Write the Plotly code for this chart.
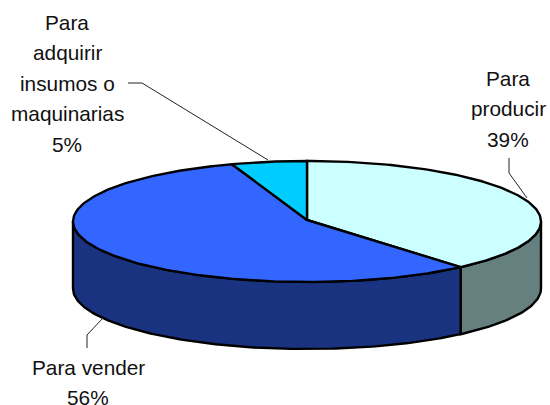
import numpy as np
import plotly.graph_objects as go

categories = ["Para producir", "Para vender", "Para adquirir insumos o maquinarias"]
values = [38.6, 56.2, 5.2]
top_colors = ["#CCFFFF", "#3366FF", "#00CCFF"]
wall_colors = ["#668080", "#1A3380", "#006680"]
label_lines = [["Para", "producir", "39%"],
               ["Para vender", "56%"],
               ["Para", "adquirir", "insumos o", "maquinarias", "5%"]]
label_x = [508, 88, 67]
label_y0 = [78, 367, 22]
leaders = [([509, 509, 527], [158, 173, 198]),
           ([87, 87, 103], [348, 335, 318]),
           ([128, 142, 268], [83, 83, 160])]

CX, CY, RX, RY, DEPTH = 307, 221.5, 234, 60.5, 67
INK = "#000000"
TEXT = "#111111"


def arc(a0, a1):
    t = np.radians(np.arange(a0, a1, 1.0).tolist() + [a1])
    return CX + RX * np.sin(t), CY - RY * np.cos(t)


fig = go.Figure()
angles = np.concatenate([[0], np.cumsum(values) / np.sum(values) * 360])

# side walls: only the front half of the disc (90..270 degrees) is visible
for i in range(len(values)):
    a0, a1 = max(angles[i], 90), min(angles[i + 1], 270)
    if a1 <= a0:
        continue
    x, y = arc(a0, a1)
    fig.add_trace(go.Scatter(
        x=np.concatenate([x, x[::-1], x[:1]]),
        y=np.concatenate([y, y[::-1] + DEPTH, y[:1]]),
        mode="lines", fill="toself", fillcolor=wall_colors[i],
        line=dict(color=INK, width=2.4), hoverinfo="skip", showlegend=False))

# top face
for i in range(len(values)):
    x, y = arc(angles[i], angles[i + 1])
    fig.add_trace(go.Scatter(
        x=np.concatenate([[CX], x, [CX]]),
        y=np.concatenate([[CY - 1.5], y, [CY - 1.5]]),
        mode="lines", fill="toself", fillcolor=top_colors[i],
        line=dict(color=INK, width=2.4), name=categories[i],
        hoverinfo="skip", showlegend=False))

# leader lines
for lx, ly in leaders:
    fig.add_trace(go.Scatter(x=lx, y=ly, mode="lines",
                             line=dict(color="#222222", width=1),
                             hoverinfo="skip", showlegend=False))

for lines, x, y0 in zip(label_lines, label_x, label_y0):
    for k, s in enumerate(lines):
        fig.add_annotation(x=x, y=y0 + k * 30.5, text=s, showarrow=False,
                           xanchor="center", yanchor="middle",
                           font=dict(family="Liberation Sans", size=20.8, color=TEXT))

fig.update_layout(width=550, height=405, autosize=False,
                  margin=dict(l=0, r=0, t=0, b=0),
                  paper_bgcolor="white", plot_bgcolor="white",
                  xaxis=dict(range=[0, 550], visible=False, fixedrange=True),
                  yaxis=dict(range=[405, 0], visible=False, fixedrange=True))
fig.write_html("out.html", config={"displayModeBar": False},
               post_script="document.body.style.margin='0';document.documentElement.style.overflow='hidden';")
